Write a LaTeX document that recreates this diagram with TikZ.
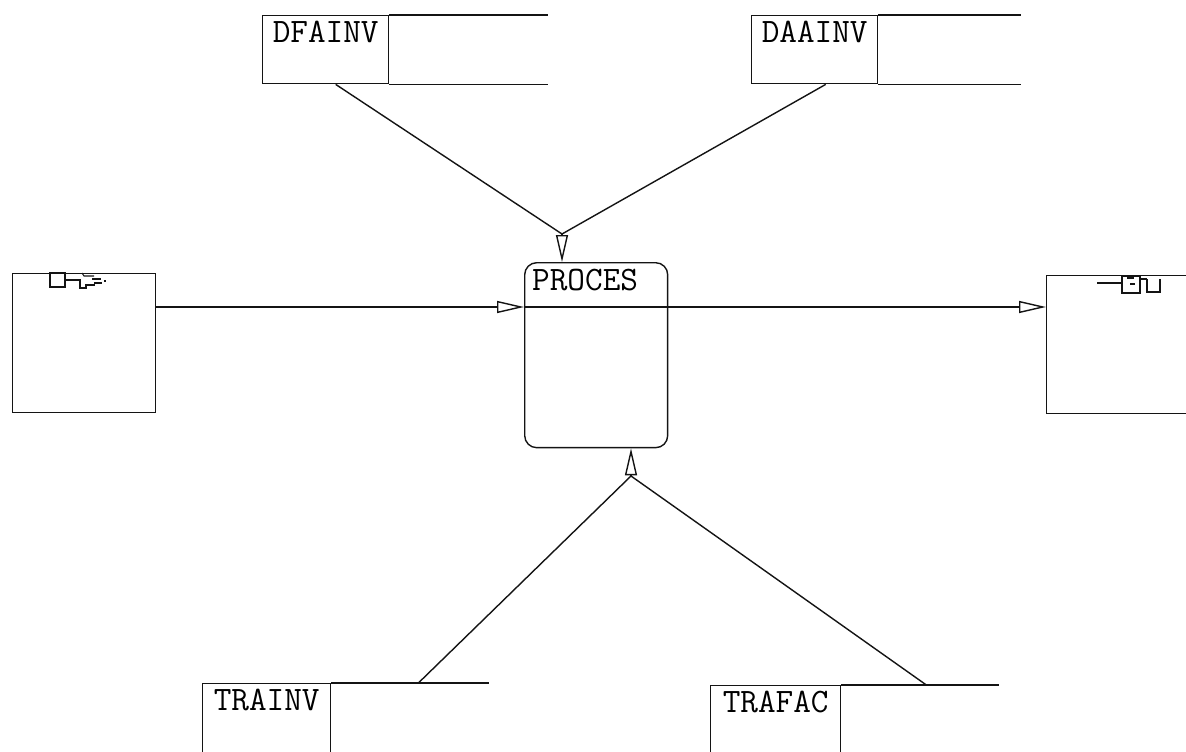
\documentclass[tikz,border=0pt]{standalone}
\usepackage{fontspec}
\usepackage{tikz}
\usetikzlibrary{arrows.meta,positioning,calc}
\definecolor{inkblack}{RGB}{20, 20, 20}
\tikzset{
  storecell/.style={
    draw=inkblack,
    line width=0.8pt,
    anchor=north west,
    font=\ttfamily\fontsize{19.5}{21}\selectfont,
    inner xsep=0.12cm,
    inner ysep=0.1cm,
    minimum width=2.52cm,
    text height=0.44cm,
    text depth=0.72cm
  },
  procbox/.style={
    draw=inkblack,
    line width=0.8pt,
    rounded corners=0.24cm,
    anchor=north west,
    font=\ttfamily\fontsize{19.5}{21}\selectfont,
    align=left,
    text width=2.56cm,
    inner xsep=0.15cm,
    inner ysep=0.1cm,
    text height=0.46cm,
    text depth=3.04cm
  },
  entitybox/.style={
    draw=inkblack,
    line width=0.8pt,
    anchor=north west,
    minimum width=2.86cm,
    minimum height=2.78cm
  },
  flowline/.style={
    draw=inkblack,
    line width=0.8pt
  },
  flowarrow/.style={
    -{Triangle[open, length=0.54cm, width=0.24cm]},
    line width=0.8pt,
    draw=inkblack
  }
}
\begin{document}
\begin{tikzpicture}[x=0.02cm, y=-0.02cm]
  \clip (0,0) rectangle (1186,751);

  % data stores
  \node[storecell] (dfainv) at (262,15) {DFAINV};
  \draw[flowline] (dfainv.north east) -- ++(159,0);
  \draw[flowline] (dfainv.south east) -- ++(159,0);
  \node[storecell] (daainv) at (751,15) {DAAINV};
  \draw[flowline] (daainv.north east) -- ++(143,0);
  \draw[flowline] (daainv.south east) -- ++(143,0);
  \node[storecell, minimum width=2.56cm, text depth=1.2cm] (trainv) at (202,683) {TRAINV};
  \draw[flowline] (trainv.north east) -- ++(158,0);
  \node[storecell, minimum width=2.6cm, text depth=1.2cm] (trafac) at (710,685) {TRAFAC};
  \draw[flowline] (trafac.north east) -- ++(158,0);

  % process
  \node[procbox] (proces) at (524,262) {PROCES};
  \coordinate (headw) at ([yshift=-0.9cm]proces.north west);
  \coordinate (heade) at ([yshift=-0.9cm]proces.north east);
  \draw[flowline] (headw) -- (heade);

  % external entities
  \node[entitybox] (source) at (12,273) {};
  \node[entitybox, minimum width=3.2cm, minimum height=2.76cm] (sink) at (1046,275) {};

  % entity icons
  \draw[flowline, line width=0.6pt] (50,273) rectangle (65,287);
  \draw[flowline, line width=0.6pt] (65,280) -- (80,280) -- (80,288) -- (86,288) -- (86,285) -- (95,285);
  \draw[flowline, line width=0.6pt] (82,273) -- (84,276) -- (94,276);
  \draw[flowline, line width=0.6pt] (92,279) -- (101,279) (94,283) -- (102,283) (104,281) -- (106,281);
  \draw[flowline, line width=0.6pt] (1097,283) -- (1122,283);
  \draw[flowline, line width=0.6pt] (1122,276) rectangle (1140,293);
  \fill[inkblack] (1127,276) rectangle (1134,279);
  \draw[flowline, line width=0.6pt] (1130,284) -- (1135,284) (1140,279) -- (1147,279);
  \draw[flowline, line width=0.6pt] (1147,279) -- (1147,292) -- (1160,292) -- (1160,279);

  % flows
  \coordinate (topjoin) at (562,234);
  \coordinate (botjoin) at (631,476);
  \draw[flowline] ([xshift=0.2cm]dfainv.south) -- (topjoin);
  \draw[flowline] ([xshift=0.22cm]daainv.south) -- (topjoin);
  \draw[flowarrow] (topjoin) -- (topjoin |- proces.north);
  \draw[flowline] ([xshift=1.74cm]trainv.north east) -- (botjoin);
  \draw[flowline] ([xshift=1.7cm]trafac.north east) -- (botjoin);
  \draw[flowarrow] (botjoin) -- (botjoin |- proces.south);
  \draw[flowarrow] (source.east |- headw) -- (headw);
  \draw[flowarrow] (heade) -- (sink.west |- heade);
\end{tikzpicture}
\end{document}
